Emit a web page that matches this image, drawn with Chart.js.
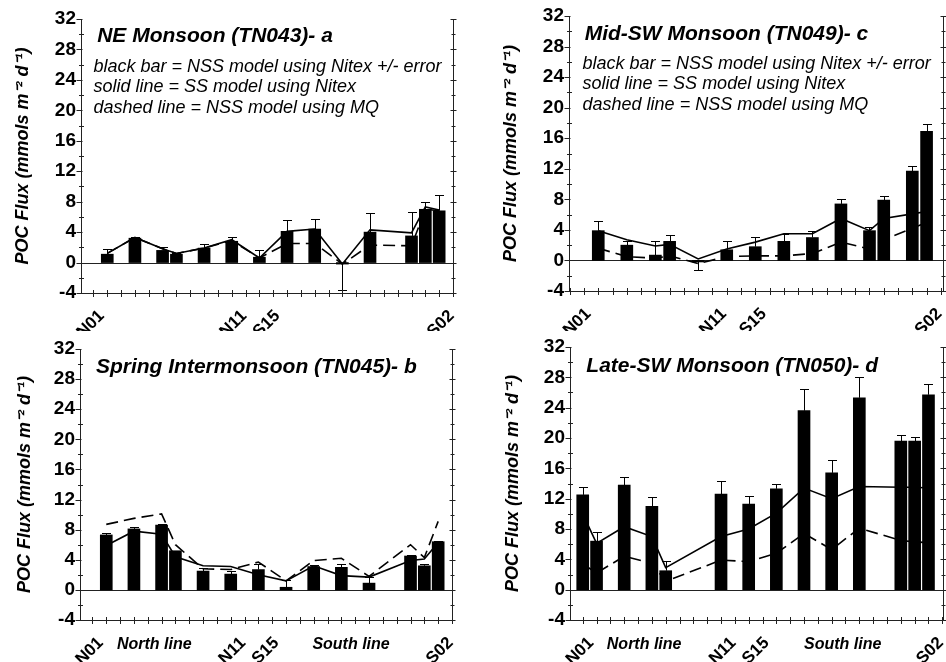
<!DOCTYPE html>
<html>
<head>
<meta charset="utf-8">
<script src="https://cdn.jsdelivr.net/npm/chart.js@4.4.0/dist/chart.umd.min.js"></script>
<style>
  html, body { margin: 0; padding: 0; background: #fff; }
  #grid { position: relative; width: 946px; height: 662px; overflow: hidden; }
  .panel { position: absolute; width: 473px; height: 331px; }
</style>
</head>
<body>
<div id="grid">
  <div class="panel" style="left:0;top:0"><canvas id="panel-a" width="473" height="331"></canvas></div>
  <div class="panel" style="left:473px;top:0"><canvas id="panel-c" width="473" height="331"></canvas></div>
  <div class="panel" style="left:0;top:331px"><canvas id="panel-b" width="473" height="331"></canvas></div>
  <div class="panel" style="left:473px;top:331px"><canvas id="panel-d" width="473" height="331"></canvas></div>
</div>
<script>
// station positions along the transect (x axis index)
const stationsA = [1, 3, 5, 6, 8, 10, 12, 14, 16, 18, 20, 23, 24, 25];
const stationsB = [1, 3, 5, 6, 8, 10, 12, 14, 16, 18, 20, 23, 24, 25];
const stationsC = [1, 3, 5, 6, 8, 10, 12, 14, 16, 18, 20, 21, 23, 24];
const stationsD = [0, 1, 3, 5, 6, 10, 12, 14, 16, 18, 20, 23, 24, 25];

// black bars: NSS model using Nitex, with +/- error
const nssNitexA = [1.1, 3.2, 1.6, 1.1, 1.9, 2.8, 0.7, 4.1, 4.4, -0.2, 4.0, 3.5, 7.0, 6.8];
const errorA    = [0.65, 0.2, 0.4, 0.1, 0.55, 0.5, 0.9, 1.5, 1.3, 3.4, 2.5, 3.1, 1.0, 2.1];
const nssNitexB = [7.3, 8.1, 8.6, 5.2, 2.5, 2.1, 2.7, 0.35, 3.1, 3.0, 0.9, 4.5, 3.2, 6.4];
const errorB    = [0.2, 0.3, 0.15, 0, 0.4, 0.4, 0.75, 0.9, 0.2, 0.45, 0.8, 0.2, 0.25, 0.15];
const nssNitexC = [3.9, 2.0, 0.7, 2.5, -0.2, 1.4, 1.8, 2.5, 3.0, 7.4, 3.9, 7.9, 11.7, 16.9];
const errorC    = [1.3, 0.6, 1.8, 0.8, 1.1, 1.1, 1.3, 0.9, 0.8, 0.6, 0.5, 0.6, 0.7, 0.9];
const nssNitexD = [12.5, 6.4, 13.8, 11.0, 2.5, 12.6, 11.3, 13.3, 23.6, 15.4, 25.3, 19.6, 19.6, 25.7];
const errorD    = [1.0, 1.2, 1.0, 1.2, 1.3, 1.7, 1.1, 0.6, 2.8, 1.7, 2.8, 0.75, 0.5, 1.4];

// solid line: SS model using Nitex
const ssNitexA = [1.2, 3.3, 1.8, 1.2, 1.9, 3.0, 0.6, 4.1, 4.4, -0.2, 4.3, 3.9, 7.3, 6.9];
const ssNitexB = [5.9, 7.8, 7.4, 4.4, 3.2, 3.1, 2.0, 1.2, 3.2, 1.9, 1.7, 3.9, 4.1, 6.3];
const ssNitexC = [3.9, 2.7, 1.9, 2.1, 0.2, 1.5, 2.4, 3.5, 3.5, 5.5, 3.9, 5.5, 6.1, 6.4];
const ssNitexD = [10.0, 6.1, 8.3, 7.0, 2.9, 7.0, 8.0, 10.1, 13.4, 12.0, 13.6, 13.5, 13.5, 13.4];

// dashed line: NSS model using MQ
const nssMqA = [1.2, 3.3, 1.8, 1.2, 1.9, 2.9, 0.6, 2.5, 2.5, -0.2, 2.3, 2.2, 7.0, 6.8];
const nssMqB = [8.7, 9.5, 10.1, 6.0, 2.8, 2.7, 3.7, 1.2, 3.9, 4.2, 1.8, 6.0, 4.3, 9.1];
const nssMqC = [1.6, 0.5, 0.3, 0.6, -0.4, 0.5, 0.6, 0.6, 0.9, 2.4, 1.5, 2.7, 4.2, 5.0];
const nssMqD = [3.4, 2.2, 4.4, 3.5, 1.1, 3.9, 3.7, 4.8, 7.4, 5.3, 8.1, 6.5, 6.3, 6.2];

// x tick labels
const stationLabels = ['N01', 'N11', 'S15', 'S02'];
const labelPosABD = [0.6, 10.9, 13.3, 25.9];
const labelPosC = [0.3, 9.8, 12.6, 24.9];

const legendLines = [
  'black bar = NSS model using Nitex +/- error',
  'solid line = SS model using Nitex',
  'dashed line = NSS model using MQ'
];

const FONT = "'Liberation Sans', Arial, sans-serif";
const W = 473, H = 331;

function pairs(xs, ys) {
  return xs.map((x, i) => ({ x: x, y: ys[i] }));
}

function crisp(v) { return Math.round(v) + 0.5; }

// axis ticks, right frame, zero line, error bars and the in-plot texts
const panelDecor = {
  id: 'panelDecor',
  beforeDatasetsDraw(chart) {
    const { ctx, chartArea: a, scales: { y } } = chart;
    ctx.save();
    ctx.strokeStyle = '#222';
    ctx.lineWidth = 1;
    ctx.beginPath();
    const y0 = crisp(y.getPixelForValue(0));
    ctx.moveTo(a.left, y0);
    ctx.lineTo(a.right, y0);
    ctx.stroke();
    ctx.restore();
  },
  afterDatasetsDraw(chart, args, o) {
    const { ctx, scales: { x, y } } = chart;
    ctx.save();
    ctx.strokeStyle = '#000';
    ctx.lineWidth = 1;
    o.stations.forEach((s, i) => {
      const v = o.values[i], e = o.errors[i];
      if (!e) return;
      const end = v >= 0 ? v + e : v - e;
      const px = crisp(x.getPixelForValue(s));
      const py1 = y.getPixelForValue(v);
      const py2 = crisp(y.getPixelForValue(end));
      ctx.beginPath();
      ctx.moveTo(px, py1);
      ctx.lineTo(px, py2);
      ctx.moveTo(px - 4.5, py2);
      ctx.lineTo(px + 4.5, py2);
      ctx.stroke();
    });
    ctx.restore();
  },
  afterDraw(chart, args, o) {
    const { ctx, chartArea: a, scales: { x, y } } = chart;
    ctx.save();
    ctx.strokeStyle = '#222';
    ctx.lineWidth = 1;
    ctx.beginPath();
    // right frame line
    const r = crisp(a.right);
    ctx.moveTo(r, a.top);
    ctx.lineTo(r, a.bottom);
    // y ticks every 2 units
    const l = crisp(a.left);
    for (let v = y.min; v <= y.max; v += 2) {
      const py = crisp(y.getPixelForValue(v));
      const major = v % 4 === 0;
      if (major) {
        ctx.moveTo(l - 5, py); ctx.lineTo(l + 1, py);
        ctx.moveTo(r - 3, py); ctx.lineTo(r + 3, py);
      } else {
        ctx.moveTo(l - 2.5, py); ctx.lineTo(l + 2.5, py);
        ctx.moveTo(r - 2, py); ctx.lineTo(r + 2, py);
      }
    }
    // x ticks at every station position
    const b = crisp(a.bottom);
    for (let s = Math.ceil(x.min); s <= Math.floor(x.max); s++) {
      const px = crisp(x.getPixelForValue(s));
      ctx.moveTo(px, b - 3.5);
      ctx.lineTo(px, b + 3.5);
    }
    ctx.stroke();

    ctx.fillStyle = '#000';
    ctx.textAlign = 'left';
    ctx.textBaseline = 'alphabetic';
    ctx.font = 'italic bold 21px ' + FONT;
    ctx.fillText(o.title.text, x.getPixelForValue(o.title.x), y.getPixelForValue(o.title.y));
    if (o.notes) {
      ctx.font = 'italic 18px ' + FONT;
      o.notes.lines.forEach((t, i) => {
        ctx.fillText(t, x.getPixelForValue(o.notes.x), y.getPixelForValue(o.notes.y[i]));
      });
    }
    if (o.lineLabels) {
      ctx.font = 'italic bold 16px ' + FONT;
      ctx.textAlign = 'center';
      o.lineLabels.forEach(lb => {
        ctx.fillText(lb.text, x.getPixelForValue(lb.x), a.bottom + 29);
      });
    }
    ctx.restore();
  }
};

function buildPanel(id, p) {
  const area = p.area;
  return new Chart(document.getElementById(id), {
    type: 'bar',
    data: {
      datasets: [
        {
          type: 'line', label: 'SS model using Nitex', data: pairs(p.stations, p.solid),
          borderColor: '#000', borderWidth: 1.6, pointRadius: 0, tension: 0, order: 1
        },
        {
          type: 'line', label: 'NSS model using MQ', data: pairs(p.stations, p.dashed),
          borderColor: '#000', borderWidth: 1.6, borderDash: [12, 6], pointRadius: 0, tension: 0, order: 2
        },
        {
          type: 'bar', label: 'NSS model using Nitex', data: pairs(p.stations, p.bars),
          backgroundColor: '#000', borderWidth: 0, barThickness: 12, order: 3
        }
      ]
    },
    options: {
      responsive: false,
      animation: false,
      devicePixelRatio: 1,
      events: [],
      layout: { padding: { left: 0, top: area.top, right: W - area.right, bottom: 0 } },
      plugins: {
        legend: { display: false },
        tooltip: { enabled: false },
        panelDecor: {
          stations: p.stations, values: p.bars, errors: p.errors,
          title: p.title, notes: p.notes, lineLabels: p.lineLabels
        }
      },
      scales: {
        x: {
          type: 'linear', min: p.xMin, max: p.xMax, offset: false, bounds: 'data',
          grid: { display: false, drawTicks: false },
          border: { display: true, color: '#222', width: 1 },
          afterBuildTicks: s => { s.ticks = p.labelPos.map(v => ({ value: v })); },
          afterFit: s => { s.height = H - area.bottom; s.paddingLeft = 0; s.paddingRight = 0; },
          ticks: {
            autoSkip: false, minRotation: 45, maxRotation: 45, padding: 13, color: '#000',
            font: { family: FONT, size: 17, weight: 'bold' },
            callback: (v, i) => stationLabels[i]
          }
        },
        y: {
          min: -4, max: 32,
          grid: { display: false, drawTicks: false },
          border: { display: true, color: '#222', width: 1 },
          afterFit: s => { s.width = area.left; s.paddingTop = 0; s.paddingBottom = 0; },
          ticks: {
            stepSize: 4, padding: 5, color: '#000',
            font: { family: FONT, size: 19, weight: 'bold' }
          },
          title: {
            display: true, text: 'POC Flux (mmols m⁻² d⁻¹)', color: '#000',
            font: { family: FONT, size: 18, weight: 'bold', style: 'italic' },
            padding: { top: p.titlePad, bottom: 0 }
          }
        }
      }
    },
    plugins: [panelDecor]
  });
}

buildPanel('panel-a', {
  area: { left: 81, right: 453, top: 19, bottom: 293 }, xMin: -0.9, xMax: 26, titlePad: 12,
  stations: stationsA, bars: nssNitexA, errors: errorA, solid: ssNitexA, dashed: nssMqA,
  labelPos: labelPosABD,
  title: { text: 'NE Monsoon (TN043)- a', x: 0.27, y: 29.0 },
  notes: { lines: legendLines, x: 0, y: [25.1, 22.4, 19.6] }
});

buildPanel('panel-c', {
  area: { left: 96, right: 470, top: 16, bottom: 291 }, xMin: -1.05, xMax: 25.15, titlePad: 27,
  stations: stationsC, bars: nssNitexC, errors: errorC, solid: ssNitexC, dashed: nssMqC,
  labelPos: labelPosC,
  title: { text: 'Mid-SW Monsoon (TN049)- c', x: 0.05, y: 28.9 },
  notes: { lines: legendLines, x: -0.1, y: [25.1, 22.5, 19.75] }
});

buildPanel('panel-b', {
  area: { left: 80, right: 452, top: 18, bottom: 289 }, xMin: -0.9, xMax: 26, titlePad: 14,
  stations: stationsB, bars: nssNitexB, errors: errorB, solid: ssNitexB, dashed: nssMqB,
  labelPos: labelPosABD,
  title: { text: 'Spring Intermonsoon (TN045)- b', x: 0.25, y: 28.75 },
  lineLabels: [{ text: 'North line', x: 4.47 }, { text: 'South line', x: 18.7 }]
});

buildPanel('panel-d', {
  area: { left: 97, right: 470, top: 16, bottom: 289 }, xMin: -0.92, xMax: 26.05, titlePad: 29,
  stations: stationsD, bars: nssNitexD, errors: errorD, solid: ssNitexD, dashed: nssMqD,
  labelPos: labelPosABD,
  title: { text: 'Late-SW Monsoon (TN050)- d', x: 0.26, y: 28.75 },
  lineLabels: [{ text: 'North line', x: 4.44 }, { text: 'South line', x: 18.8 }]
});
</script>
</body>
</html>
